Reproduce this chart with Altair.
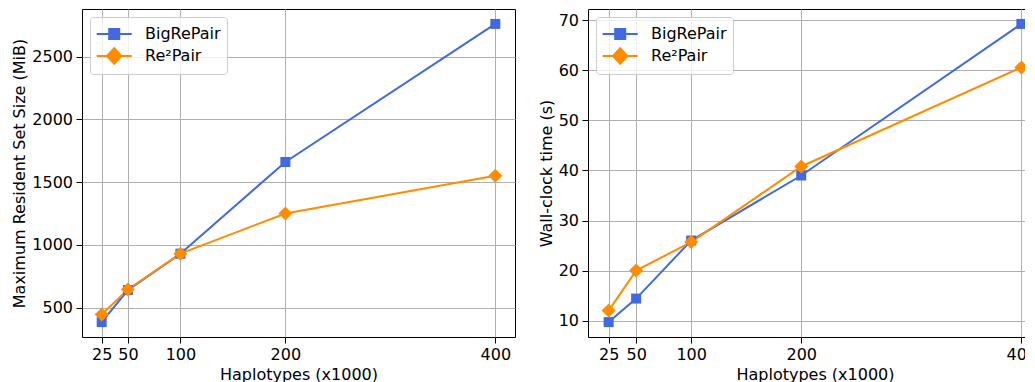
import altair as alt
import pandas as pd

haplotypes = [25, 50, 100, 200, 400]
series_names = ["BigRePair", "Re\u00b2Pair"]
series_colors = ["#4169e1", "#ff8c00"]

rss_bigrepair = [385, 640, 930, 1660, 2760]
rss_re2pair = [445, 645, 930, 1250, 1550]

time_bigrepair = [9.7, 14.4, 26.0, 39.0, 69.3]
time_re2pair = [12.0, 20.0, 25.7, 40.8, 60.6]

rss_ticks = [500, 1000, 1500, 2000, 2500]
time_ticks = [10, 20, 30, 40, 50, 60, 70]

FONT = "DejaVu Sans"

# legend symbols (unit = 10 px): a line with a marker on it
sym_square = "M-1.03,0H2.47M0.22,-0.5H1.22V0.5H0.22Z"
sym_diamond = "M-1.03,0H2.47M0.72,-0.78L1.44,0L0.72,0.78L0,0Z"


def make_df(a, b):
    rows = []
    for name, vals in zip(series_names, [a, b]):
        for h, v in zip(haplotypes, vals):
            rows.append({"h": h, "v": v, "s": name})
    return pd.DataFrame(rows)


def panel(df, ytitle, yticks, width, height):
    lo, hi = min(haplotypes), max(haplotypes)
    xm = (hi - lo) * 0.05
    vmin, vmax = df["v"].min(), df["v"].max()
    ym = (vmax - vmin) * 0.05
    x = alt.X("h:Q",
              scale=alt.Scale(domain=[lo - xm, hi + xm], nice=False, zero=False),
              axis=alt.Axis(values=haplotypes, title="Haplotypes (x1000)", format="d"))
    y = alt.Y("v:Q",
              scale=alt.Scale(domain=[vmin - ym, vmax + ym], nice=False, zero=False),
              axis=alt.Axis(values=yticks, title=ytitle, format="d"))
    cscale = alt.Scale(domain=series_names, range=series_colors)
    base = alt.Chart(df)
    leg = alt.Legend(title=None, orient="none", legendX=8, legendY=8,
                     labelFontSize=16, labelFont=FONT, labelColor="black",
                     labelLimit=0, strokeColor="#cccccc",
                     fillColor="rgba(255,255,255,0.8)", cornerRadius=3,
                     padding=6, labelOffset=27, symbolSize=400,
                     symbolStrokeWidth=2, rowPadding=1)
    # tiny points (hidden under the real markers) that carry the legend
    legend_layer = base.mark_point(filled=True, size=1, opacity=1).encode(
        x=x, y=y,
        shape=alt.Shape("s:N", scale=alt.Scale(domain=series_names,
                                               range=[sym_square, sym_diamond]),
                        legend=leg),
        fill=alt.Fill("s:N", scale=alt.Scale(domain=series_names, range=series_colors), legend=leg),
        stroke=alt.Stroke("s:N", scale=alt.Scale(domain=series_names, range=series_colors), legend=leg),
    )
    lines = base.mark_line(strokeWidth=2).encode(
        x=x, y=y, color=alt.Color("s:N", scale=cscale, legend=None))
    sq = base.transform_filter(alt.datum.s == series_names[0]).mark_point(
        shape="square", filled=True, size=100, opacity=1).encode(
        x=x, y=y, color=alt.Color("s:N", scale=cscale, legend=None))
    di = base.transform_filter(alt.datum.s == series_names[1]).mark_point(
        shape="diamond", filled=True, size=196, opacity=1).encode(
        x=x, y=y, color=alt.Color("s:N", scale=cscale, legend=None))
    return alt.layer(legend_layer, lines, sq, di).properties(width=width, height=height)


left = panel(make_df(rss_bigrepair, rss_re2pair), "Maximum Resident Set Size (MiB)",
             rss_ticks, 433, 328)
right = panel(make_df(time_bigrepair, time_re2pair), "Wall-clock time (s)",
              time_ticks, 454, 328)

# negative right padding crops the right panel at the picture's edge, as in the original
chart = alt.hconcat(left, right, spacing=21).resolve_scale(
    fill="independent", stroke="independent", shape="independent", color="independent"
).resolve_legend(
    fill="independent", stroke="independent", shape="independent", color="independent"
).properties(
    padding={"left": 3, "top": 0, "right": -18, "bottom": 0}
).configure_view(stroke="black", strokeWidth=1).configure_axis(
    labelFont=FONT, titleFont=FONT, labelFontSize=16, titleFontSize=16,
    titleFontWeight="normal", labelColor="black", titleColor="black",
    tickColor="black", tickSize=6, tickWidth=1, labelPadding=3.5, domain=False,
    gridColor="#b0b0b0", gridWidth=1, titlePadding=4
)

chart.save("out.html", embed_options={"renderer": "svg", "actions": False})
